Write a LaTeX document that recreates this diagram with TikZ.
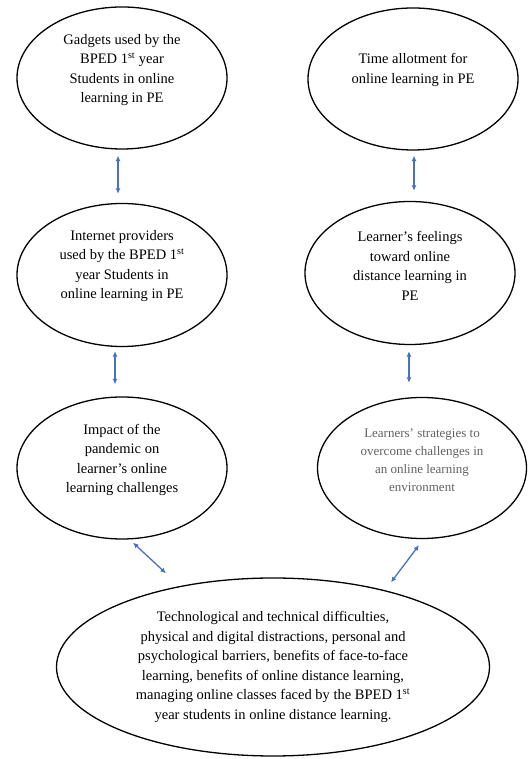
\documentclass[tikz,border=0pt]{standalone}
\usepackage{fontspec}
\setmainfont{Liberation Serif}
\usepackage{tikz}
\usetikzlibrary{arrows.meta,shapes.geometric}
\definecolor{arrowblue}{RGB}{68,114,196}
\tikzstyle{bubble}=[draw, ellipse, line width=1.3pt, minimum width=210pt, minimum height=142pt]
\tikzstyle{bigbubble}=[bubble, minimum width=433pt, minimum height=178pt]
\tikzstyle{bubbletext}=[align=center, font=\fontsize{14.5}{19.6}\selectfont]
\tikzstyle{greytext}=[align=center, text=black!62, font=\fontsize{13}{18}\selectfont]
\tikzset{%
    biarrow/.style={{Latex[length=5.5pt,width=5pt]}-{Latex[length=5.5pt,width=5pt]},arrowblue,line width=1.3pt},
  }
\begin{document}
\begin{tikzpicture}[x=1pt,y=1pt]
    \useasboundingbox (0,0) rectangle (527,759);
    %
    \node (gad) [bubble] at (122,681) {};
    \node (gadtxt) [bubbletext] at ([yshift=8]gad.center) {Gadgets used by the\\BPED 1\textsuperscript{st} year\\Students in online\\learning in PE};
    \node (time) [bubble] at (413,680) {};
    \node (timetxt) [bubbletext] at ([yshift=9]time.center) {Time allotment for\\online learning in PE};
    %
    \node (inet) [bubble, minimum height=143pt] at (122,484) {};
    \node (inettxt) [bubbletext] at ([yshift=9]inet.center) {Internet providers\\used by the BPED 1\textsuperscript{st}\\year Students in\\online learning in PE};
    \node (feel) [bubble, minimum height=143pt] at (410,486) {};
    \node (feeltxt) [bubbletext] at ([yshift=7]feel.center) {Learner's feelings\\toward online\\distance learning in\\PE};
    %
    \node (imp) [bubble] at (122,291) {};
    \node (imptxt) [bubbletext] at ([yshift=8]imp.center) {Impact of the\\pandemic on\\learner's online\\learning challenges};
    \node (strat) [bubble, minimum width=209pt, minimum height=141pt] at (422,291) {};
    \node (strattxt) [greytext] at ([yshift=8]strat.center) {Learners' strategies to\\overcome challenges in\\an online learning\\environment};
    %
    \node (tech) [bigbubble] at (273,92) {};
    \node (techtxt) [bubbletext] at (tech.center) {Technological and technical difficulties,\\physical and digital distractions, personal and\\psychological barriers, benefits of face-to-face\\learning, benefits of online distance learning,\\managing online classes faced by the BPED 1\textsuperscript{st}\\year students in online distance learning.};
    %
    \draw [biarrow] ([shift={(-4,-6)}]gad.south) -- ([shift={(-4,9)}]inet.north);
    \draw [biarrow] ([shift={(1,-5)}]time.south) -- ([shift={(4,10)}]feel.north);
    \draw [biarrow] ([shift={(-7,-4)}]inet.south) -- ([shift={(-7,12)}]imp.north);
    \draw [biarrow] ([shift={(-1,-6)}]feel.south) -- ([shift={(-13,14)}]strat.north);
    %
    \draw [biarrow] ([shift={(11,-3)}]imp.south) -- ([shift={(-107,4)}]tech.north);
    \draw [biarrow] ([shift={(-3,-6)}]strat.south) -- ([shift={(118,-5)}]tech.north);
  \end{tikzpicture}
\end{document}
